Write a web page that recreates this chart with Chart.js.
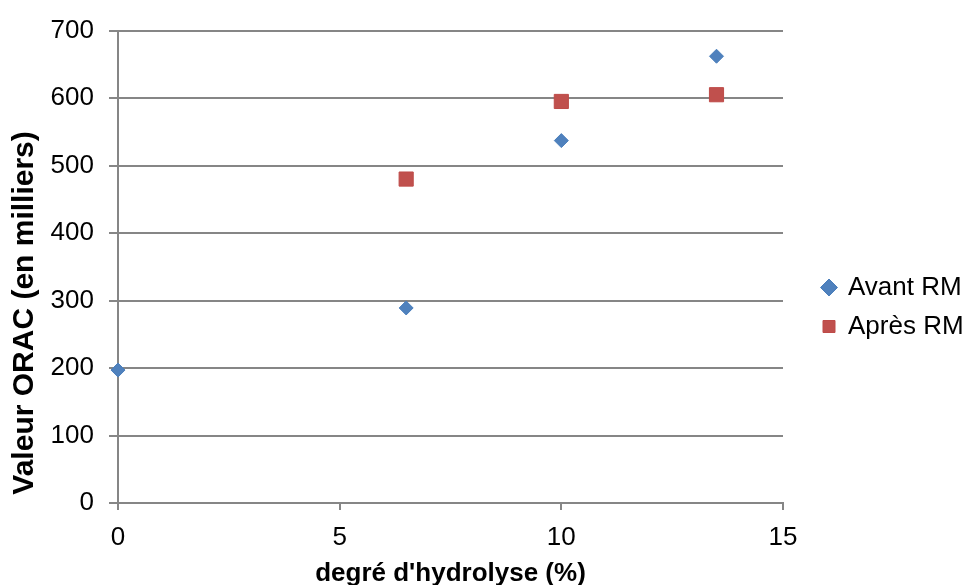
<!DOCTYPE html>
<html>
<head>
<meta charset="utf-8">
<script src="https://cdn.jsdelivr.net/npm/chart.js@4"></script>
<style>
  html, body { margin: 0; padding: 0; background: #fff; }
  #wrap { position: relative; width: 963px; height: 585px; }
</style>
</head>
<body>
<div id="wrap"><canvas id="orac"></canvas></div>
<script>
// degré d'hydrolyse (%) / valeur ORAC (en milliers)
const avantX = [0, 6.5, 10, 13.5];
const avantY = [197, 289, 537, 662];
const apresX = [6.5, 10, 13.5];
const apresY = [480, 595, 605];
const xTicks = [0, 5, 10, 15];
const yTicks = [0, 100, 200, 300, 400, 500, 600, 700];
const seriesNames = ['Avant RM', 'Après RM'];

const gris = '#868686';
const police = "'Liberation Sans', Arial, sans-serif";

const toPoints = (xs, ys) => xs.map((x, i) => ({ x: x, y: ys[i] }));

const chart = new Chart(document.getElementById('orac').getContext('2d'), {
    type: 'scatter',
    data: {
        datasets: [{
            label: seriesNames[0],
            data: toPoints(avantX, avantY),
            pointStyle: 'rectRot',
            radius: 7,
            hoverRadius: 7,
            backgroundColor: '#4F81BD',
            borderColor: '#4A7EBB',
            borderWidth: 1,
            clip: false
        }, {
            label: seriesNames[1],
            data: toPoints(apresX, apresY),
            pointStyle: 'rect',
            radius: 10,
            hoverRadius: 10,
            backgroundColor: '#C0504D',
            borderColor: '#BE4B48',
            borderWidth: 1,
            clip: false
        }]
    },
    options: {
        responsive: true,
        maintainAspectRatio: false,
        devicePixelRatio: 1,
        animation: false,
        layout: { padding: { top: 29, left: 0, right: 0, bottom: 0 } },
        plugins: {
            tooltip: { enabled: false },
            legend: {
                position: 'right',
                align: 'center',
                labels: {
                    usePointStyle: true,
                    boxWidth: 12,
                    boxHeight: 12,
                    padding: 13,
                    color: '#000',
                    font: { family: police, size: 26 }
                }
            }
        },
        scales: {
            x: {
                type: 'linear',
                min: xTicks[0],
                max: xTicks[xTicks.length - 1],
                afterFit: s => { s.height = 82; },
                ticks: {
                    stepSize: xTicks[1] - xTicks[0],
                    color: '#000',
                    padding: 12,
                    font: { family: police, size: 26 }
                },
                grid: { drawOnChartArea: false, drawTicks: true, tickLength: 7, color: gris, lineWidth: 2 },
                border: { color: gris, width: 2 },
                title: {
                    display: true,
                    text: "degré d'hydrolyse (%)",
                    color: '#000',
                    padding: { top: 0, bottom: 0 },
                    font: { family: police, size: 26, weight: 'bold', lineHeight: 0.85 }
                }
            },
            y: {
                type: 'linear',
                min: yTicks[0],
                max: yTicks[yTicks.length - 1],
                afterFit: s => { s.width = 118; },
                ticks: {
                    stepSize: yTicks[1] - yTicks[0],
                    color: '#000',
                    padding: 15,
                    font: { family: police, size: 26 }
                },
                grid: { color: gris, lineWidth: 2, tickLength: 9 },
                border: { color: gris, width: 2 },
                title: {
                    display: true,
                    align: 'start',
                    text: ' Valeur ORAC (en milliers)',
                    color: '#000',
                    padding: { top: 7, bottom: 0 },
                    font: { family: police, size: 30, weight: 'bold' }
                }
            },
            // espace vide entre le graphique et la légende
            marge: {
                type: 'linear',
                position: 'right',
                afterFit: s => { s.width = 27; },
                ticks: { display: false },
                grid: { display: false },
                border: { display: false }
            }
        }
    }
});

// largeur fixe de la légende
const fitLegende = chart.legend.fit.bind(chart.legend);
chart.legend.fit = function () { fitLegende(); this.width = 153; };
chart.update('none');
</script>
</body>
</html>
